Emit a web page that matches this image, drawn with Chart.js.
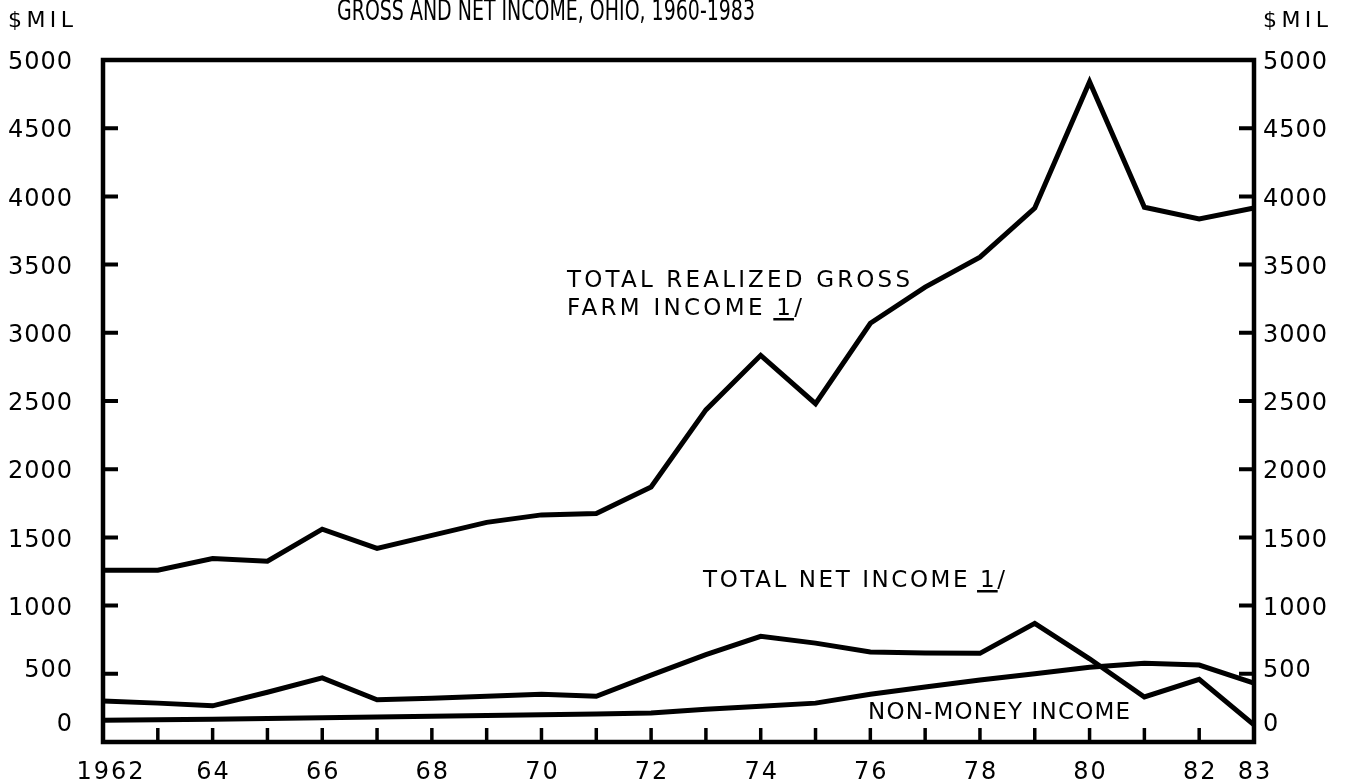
<!DOCTYPE html>
<html>
<head>
<meta charset="utf-8">
<script src="https://cdn.jsdelivr.net/npm/chart.js@4"></script>
<style>
html,body{margin:0;padding:0;background:#fff;}
#wrap{width:1345px;height:783px;position:relative;}
canvas{display:block;}
</style>
</head>
<body>
<div id="wrap"><canvas id="c" width="1345" height="783"></canvas></div>
<script>
// ---- data ($ million) ----
const years = [1962,1963,1964,1965,1966,1967,1968,1969,1970,1971,1972,1973,1974,1975,1976,1977,1978,1979,1980,1981,1982,1983];
const grossIncome = [1260,1260,1345,1325,1560,1420,1515,1610,1665,1675,1870,2435,2835,2480,3070,3335,3555,3915,4840,3920,3835,3915];
const netIncome   = [300,285,265,365,470,310,320,335,350,335,490,640,775,725,660,653,650,870,610,330,460,125];
const nonMoneyIncome = [160,163,167,172,178,183,188,194,199,205,213,240,262,285,350,403,455,500,548,578,564,432];
const yTickValues = [0,500,1000,1500,2000,2500,3000,3500,4000,4500,5000];
const xLabelYears = [1962,1964,1966,1968,1970,1972,1974,1976,1978,1980,1982,1983];
const xLabelTexts = ['1962','64','66','68','70','72','74','76','78','80','82','83'];
const titleText = 'GROSS AND NET INCOME, OHIO, 1960-1983';
const unitText = '$MIL';

const toPts = arr => years.map((yr, i) => ({x: yr, y: arr[i]}));

function fitText(ctx, text, x, y, w, font) {
  ctx.font = font;
  if ('letterSpacing' in ctx) ctx.letterSpacing = '0px';
  const nat = ctx.measureText(text).width;
  const n = [...text].length;
  const ls = n > 1 ? (w - nat) / (n - 1) : 0;
  if ('letterSpacing' in ctx) {
    ctx.letterSpacing = ls + 'px';
    ctx.fillText(text, x, y);
    ctx.letterSpacing = '0px';
  } else {
    ctx.save(); ctx.translate(x, y); ctx.scale(w / nat, 1); ctx.fillText(text, 0, 0); ctx.restore();
  }
  return ls;
}

function underlineChar(ctx, prefix, ch, x, y, ls, font) {
  ctx.font = font;
  if ('letterSpacing' in ctx) ctx.letterSpacing = '0px';
  const pw = ctx.measureText(prefix).width + ls * [...prefix].length;
  const cw = ctx.measureText(ch).width;
  ctx.fillRect(x + pw - 3, y + 3, cw + 6, 2.5);
}

const decor = {
  id: 'decor',
  afterDraw(chart) {
    const ctx = chart.ctx;
    const a = chart.chartArea;
    const xs = chart.scales.x, ys = chart.scales.y, ys2 = chart.scales.y2;
    ctx.save();
    ctx.strokeStyle = '#000';
    ctx.fillStyle = '#000';
    // frame
    ctx.lineWidth = 4.5;
    ctx.lineJoin = 'miter';
    ctx.strokeRect(a.left, a.top, a.right - a.left, a.bottom - a.top);
    // inward y ticks
    ctx.lineWidth = 4;
    yTickValues.forEach(v => {
      if (v === ys.min || v === ys.max) return;
      const py = ys.getPixelForValue(v);
      const py2 = ys2.getPixelForValue(v);
      ctx.beginPath();
      ctx.moveTo(a.left, py); ctx.lineTo(a.left + 15, py);
      ctx.moveTo(a.right - 15, py2); ctx.lineTo(a.right, py2);
      ctx.stroke();
    });
    // x ticks (every year)
    ctx.lineWidth = 3.5;
    years.forEach(yr => {
      if (yr === xs.min || yr === xs.max) return;
      const px = xs.getPixelForValue(yr);
      ctx.beginPath();
      ctx.moveTo(px, a.bottom); ctx.lineTo(px, a.bottom - 14);
      ctx.stroke();
    });
    // y labels
    const lblFont = '24px "DejaVu Sans", sans-serif';
    ctx.font = lblFont;
    if ('letterSpacing' in ctx) ctx.letterSpacing = '1px';
    ctx.textBaseline = 'middle';
    yTickValues.forEach(v => {
      const off = v === 0 ? -17 : (v === 500 ? -3 : 3);
      const py = ys.getPixelForValue(v) + off;
      const py2 = ys2.getPixelForValue(v) + off;
      ctx.textAlign = 'right';
      ctx.fillText(String(v), a.left - 30, py);
      ctx.textAlign = 'left';
      ctx.fillText(String(v), a.right + 9, py2);
    });
    // x labels
    ctx.textAlign = 'center';
    ctx.textBaseline = 'alphabetic';
    if ('letterSpacing' in ctx) ctx.letterSpacing = '2px';
    xLabelYears.forEach((yr, i) => {
      const px = xs.getPixelForValue(yr) + (i === 0 ? 8 : 1);
      ctx.fillText(xLabelTexts[i], px, 779);
    });
    if ('letterSpacing' in ctx) ctx.letterSpacing = '0px';
    ctx.textAlign = 'left';
    // units
    fitText(ctx, unitText, 8, 27, 65, '22px "DejaVu Sans", sans-serif');
    fitText(ctx, unitText, a.right + 9, 27, 65, '22px "DejaVu Sans", sans-serif');
    // title (condensed)
    {
      const f = '28px "Liberation Sans Narrow", "DejaVu Sans Condensed", "Liberation Sans", sans-serif';
      ctx.font = f;
      const nat = ctx.measureText(titleText).width;
      ctx.save();
      ctx.translate(337, 20);
      ctx.scale(418 / nat, 1);
      ctx.fillText(titleText, 0, 0);
      ctx.restore();
    }
    // annotations
    const af = '23px "DejaVu Sans", sans-serif';
    fitText(ctx, 'TOTAL REALIZED GROSS', 567, 287, 343, af);
    let ls = fitText(ctx, 'FARM INCOME 1/', 567, 315, 235, af);
    underlineChar(ctx, 'FARM INCOME ', '1', 567, 315, ls, af);
    ls = fitText(ctx, 'TOTAL NET INCOME 1/', 703, 587, 302, af);
    underlineChar(ctx, 'TOTAL NET INCOME ', '1', 703, 587, ls, af);
    fitText(ctx, 'NON-MONEY INCOME', 868, 719, 262, af);
    ctx.restore();
  }
};

const lineStyle = {borderColor: '#000', borderWidth: 5, pointRadius: 0, tension: 0, fill: false, clip: false, borderJoinStyle: 'miter'};

new Chart(document.getElementById('c'), {
  type: 'line',
  data: {
    datasets: [
      Object.assign({label: 'Total realized gross farm income', data: toPts(grossIncome), yAxisID: 'y'}, lineStyle),
      Object.assign({label: 'Total net income', data: toPts(netIncome), yAxisID: 'y'}, lineStyle),
      Object.assign({label: 'Non-money income', data: toPts(nonMoneyIncome), yAxisID: 'y'}, lineStyle)
    ]
  },
  options: {
    responsive: false,
    animation: false,
    devicePixelRatio: 1,
    layout: {padding: {left: 103, right: 91, top: 60, bottom: 41}},
    plugins: {legend: {display: false}, tooltip: {enabled: false}},
    scales: {
      x: {type: 'linear', min: 1962, max: 1983, display: false},
      y: {type: 'linear', position: 'left', min: 0, max: 5000, display: false},
      y2: {type: 'linear', position: 'right', min: 0, max: 5000, display: false}
    }
  },
  plugins: [decor]
});
</script>
</body>
</html>
